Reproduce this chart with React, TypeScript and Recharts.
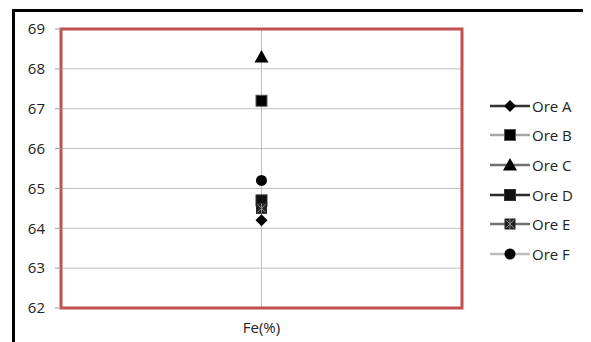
import React from "react";
import {
  LineChart,
  Line,
  XAxis,
  YAxis,
  CartesianGrid,
  ReferenceArea,
} from "recharts";

// single category on the x axis
const categories = ["Fe(%)"];
const seriesNames = ["Ore A", "Ore B", "Ore C", "Ore D", "Ore E", "Ore F"];
const oreA = [64.2];
const oreB = [67.2];
const oreC = [68.3];
const oreD = [64.7];
const oreE = [64.5];
const oreF = [65.2];
const yTicks = [62, 63, 64, 65, 66, 67, 68, 69];

const values = [oreA, oreB, oreC, oreD, oreE, oreF];
const data = categories.map((name, i) => {
  const row: any = { name };
  seriesNames.forEach((s, k) => (row[s] = values[k][i]));
  return row;
});

const FONT = "'Open Sans', sans-serif";
const lineColors = ["#333333", "#a6a6a6", "#6f6f6f", "#2b2b2b", "#6f6f6f", "#bdbdbd"];
const shapes = ["diamond", "square", "triangle", "squareD", "squareE", "circle"];

function Marker({ cx, cy, shape }: { cx: number; cy: number; shape: string }) {
  if (cx == null || cy == null) return null;
  switch (shape) {
    case "diamond":
      return <path d={`M${cx},${cy - 6} L${cx + 6},${cy} L${cx},${cy + 6} L${cx - 6},${cy} Z`} fill="#000" />;
    case "square":
      return <rect x={cx - 5.5} y={cy - 5.5} width={11} height={11} fill="#000" stroke="#555" strokeWidth={1} />;
    case "triangle":
      return <path d={`M${cx},${cy - 7} L${cx + 7},${cy + 5.5} L${cx - 7},${cy + 5.5} Z`} fill="#000" />;
    case "squareD":
      return <rect x={cx - 5.5} y={cy - 5.5} width={11} height={11} fill="#111" stroke="#333" strokeWidth={1} />;
    case "squareE":
      return (
        <g>
          <rect x={cx - 5.5} y={cy - 5.5} width={11} height={11} fill="#222" />
          <path d={`M${cx - 4},${cy - 4} L${cx + 4},${cy + 4} M${cx + 4},${cy - 4} L${cx - 4},${cy + 4} M${cx},${cy - 5} L${cx},${cy + 5}`} stroke="#888" strokeWidth={1} />
        </g>
      );
    default:
      return <circle cx={cx} cy={cy} r={5.5} fill="#000" />;
  }
}

function LegendBox() {
  return (
    <div
      style={{
        position: "absolute",
        left: 490,
        top: 91,
        fontFamily: FONT,
        fontSize: 15,
        color: "#222",
      }}
    >
      {seriesNames.map((s, k) => (
        <div key={s} style={{ display: "flex", alignItems: "center", height: 29.6 }}>
          <svg width={41} height={14}>
            <line x1={0} y1={7} x2={40} y2={7} stroke={lineColors[k]} strokeWidth={2.5} />
            <Marker cx={20} cy={7} shape={shapes[k]} />
          </svg>
          <span style={{ marginLeft: 1 }}>{s}</span>
        </div>
      ))}
    </div>
  );
}

export default function App() {
  return (
    <div
      style={{
        marginLeft: 4,
        marginTop: 1,
        width: 574,
        height: 330,
        borderTop: "3px solid #000",
        borderLeft: "3px solid #000",
        borderRight: "1px solid #e0e0e0",
      }}
    >
      <LineChart
        width={574}
        height={330}
        data={data}
        margin={{ top: 17, right: 127, bottom: 4, left: 0 }}
        style={{ fontFamily: FONT }}
      >
        <CartesianGrid stroke="#bfbfbf" strokeWidth={1} />
        <XAxis
          xAxisId="edge"
          type="number"
          domain={[0, 1]}
          ticks={[0, 1]}
          tickFormatter={() => ""}
          height={0}
          axisLine={false}
          tickLine={{ stroke: "#a0a0a0" }}
          tickSize={6}
        />
        <XAxis
          dataKey="name"
          height={30}
          axisLine={false}
          tickLine={false}
          tickMargin={8}
          tick={{ fill: "#222", fontSize: 15 }}
        />
        <YAxis
          domain={[62, 69]}
          ticks={yTicks}
          width={46}
          axisLine={false}
          tickLine={{ stroke: "#a0a0a0" }}
          tickSize={6}
          tickMargin={10}
          tick={{ fill: "#222", fontSize: 15 }}
        />
        <ReferenceArea y1={62} y2={69} fill="none" stroke="#c0504d" strokeWidth={3} />
        {seriesNames.map((s, k) => (
          <Line
            key={s}
            dataKey={s}
            stroke={lineColors[k]}
            strokeWidth={2}
            isAnimationActive={false}
            dot={(p: any) => <Marker key={s} cx={p.cx} cy={p.cy} shape={shapes[k]} />}
            activeDot={false}
          />
        ))}
      </LineChart>
      <LegendBox />
    </div>
  );
}
